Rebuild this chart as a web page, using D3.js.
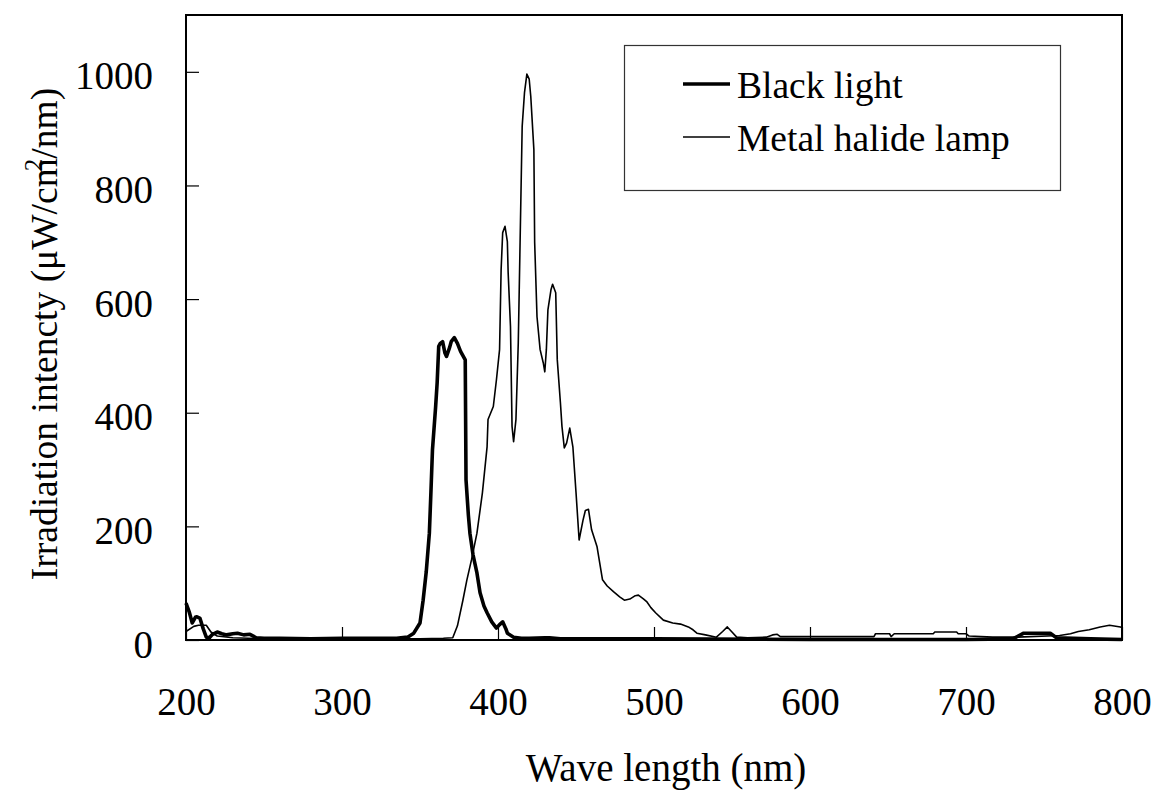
<!DOCTYPE html>
<html>
<head>
<meta charset="utf-8">
<script src="https://cdn.jsdelivr.net/npm/d3@7"></script>
<style>
  html, body { margin: 0; padding: 0; background: #fff; }
  svg { display: block; }
  text { font-family: "Liberation Serif", "Times New Roman", serif; fill: #000; }
</style>
</head>
<body>
<svg id="chart" width="1157" height="791"></svg>
<script>
// Spectral irradiance of two light sources (μW/cm²/nm) against wavelength (nm)
const seriesNames = ["Black light", "Metal halide lamp"];

const blackLightWave = [200, 202, 204, 206, 207, 209, 211, 213, 215, 217, 220, 223, 226, 230, 233, 237, 241, 245, 250, 260, 280, 300, 320, 335, 342, 346, 350, 352, 354, 356, 357, 358, 360, 361, 362, 363, 364.5, 366, 367, 369, 370, 372, 374, 376, 379, 379.5, 381, 382, 384, 386.5, 388.5, 391, 393, 396, 399, 401, 403, 405, 406, 410, 415, 420, 430, 433, 440, 500, 600, 700, 730, 737, 754, 758, 780, 800];
const blackLightValue = [65, 50, 30, 40, 41, 38, 20, 5, 4, 10, 14, 11, 9, 11, 12, 9, 10, 4, 3, 3, 2, 3, 3, 3, 5, 12, 30, 70, 120, 188, 260, 335, 410, 453, 517, 522, 525, 505, 499, 515, 525, 532, 522, 508, 493, 282, 220, 188, 150, 118, 83, 60, 48, 32, 21, 27, 32, 20, 12, 5, 3, 3, 4, 4, 2, 2, 1, 1, 2, 12, 12, 4, 2, 1];

const halideWave = [200, 205, 208, 213, 216, 220, 230, 250, 300, 350, 365, 371, 374, 377.5, 380, 383, 386.5, 390, 393, 393.6, 397, 399, 401, 402, 403, 404.5, 406, 406.5, 408, 409, 410, 411.5, 413, 415.5, 417, 418.5, 420, 421, 423, 423.5, 425, 427, 429, 430, 431, 432, 434, 435, 437, 438, 440, 441, 442.5, 444, 446, 448, 450, 452, 454.5, 456, 458, 460, 463.5, 467, 470, 474, 478, 481, 484.5, 488, 490, 493, 495.5, 498, 501, 506, 512, 517, 522, 525, 527.5, 533, 540, 544, 547, 550, 553, 560, 572, 576, 579, 581, 600, 641, 642, 651, 652, 654, 679, 680, 694, 695, 700, 702, 717, 733, 760, 767, 772, 779, 786, 792, 799, 800];
const halideValue = [15, 24, 26, 26, 14, 7, 4, 2, 2, 2, 3, 4, 25, 70, 105, 141, 188, 259, 340, 388, 411, 458, 511, 652, 717, 728, 701, 647, 552, 376, 349, 388, 523, 904, 964, 996, 987, 957, 863, 700, 569, 511, 488, 472, 511, 581, 617, 626, 611, 493, 418, 376, 338, 347, 373, 340, 260, 176, 211, 228, 230, 194, 164, 106, 95, 85, 76, 70, 72, 78, 79, 73, 67, 57, 48, 35, 30, 28, 23, 18, 12, 9, 5, 15, 23, 14, 5, 4, 5, 9, 10, 6, 6, 6, 11, 11, 6, 11, 11, 14, 14, 11, 11, 7, 5, 5, 8, 11, 15, 18, 23, 26, 23, 22];

const xTicks = [200, 300, 400, 500, 600, 700, 800];
const yTicks = [0, 200, 400, 600, 800, 1000];

const svg = d3.select("#chart");
const plot = { left: 186, right: 1122, top: 15, bottom: 640 };

const x = d3.scaleLinear().domain([200, 800]).range([plot.left, plot.right]);
const y = d3.scaleLinear().domain([0, 1100]).range([plot.bottom, plot.top]);

// Axes with inward ticks
const xAxis = svg.append("g")
  .attr("transform", `translate(0,${plot.bottom})`)
  .call(d3.axisBottom(x).tickValues(xTicks).tickFormat(d3.format("d")).tickSize(-13).tickPadding(47));
const yAxis = svg.append("g")
  .attr("transform", `translate(${plot.left},0)`)
  .call(d3.axisLeft(y).tickValues(yTicks).tickFormat(d3.format("d")).tickSize(-13).tickPadding(33));

[xAxis, yAxis].forEach(g => {
  g.select(".domain").remove();
  g.selectAll(".tick line").attr("stroke", "#000").attr("stroke-width", 1.2);
  g.selectAll(".tick text")
    .style("font-family", "'Liberation Serif', 'Times New Roman', serif")
    .style("font-size", "39px")
    .attr("fill", "#000");
});
yAxis.selectAll(".tick text").attr("dy", "0.44em");

// Spectral curves
const line = d3.line().x(d => x(d[0])).y(d => y(d[1]));
const blackLight = blackLightWave.map((w, i) => [w, blackLightValue[i]]);
const halide = halideWave.map((w, i) => [w, halideValue[i]]);

svg.append("path").datum(halide)
  .attr("d", line).attr("fill", "none")
  .attr("stroke", "#000").attr("stroke-width", 1.6).attr("stroke-linejoin", "round");
svg.append("path").datum(blackLight)
  .attr("d", line).attr("fill", "none")
  .attr("stroke", "#000").attr("stroke-width", 3.6).attr("stroke-linejoin", "round");

// Plot frame
svg.append("rect")
  .attr("x", plot.left).attr("y", plot.top)
  .attr("width", plot.right - plot.left).attr("height", plot.bottom - plot.top)
  .attr("fill", "none").attr("stroke", "#000").attr("stroke-width", 2);

// Legend
const legend = svg.append("g");
legend.append("rect")
  .attr("x", 624.5).attr("y", 45.5).attr("width", 436).attr("height", 145)
  .attr("fill", "#fff").attr("stroke", "#333").attr("stroke-width", 1.2);
const legendRows = [
  { name: seriesNames[0], width: 3.6, y: 84 },
  { name: seriesNames[1], width: 1.6, y: 137 }
];
legendRows.forEach(r => {
  legend.append("line")
    .attr("x1", 683).attr("x2", 730).attr("y1", r.y).attr("y2", r.y)
    .attr("stroke", "#000").attr("stroke-width", r.width);
  legend.append("text")
    .attr("x", 737).attr("y", r.y + 14)
    .style("font-size", "37.5px")
    .text(r.name);
});

// Axis titles
svg.append("text")
  .attr("x", 666).attr("y", 781)
  .attr("text-anchor", "middle")
  .style("font-size", "39px")
  .text("Wave length (nm)");

const yTitle = svg.append("text")
  .attr("transform", "translate(57,334) rotate(-90)")
  .attr("text-anchor", "middle")
  .style("font-size", "37.5px");
yTitle.append("tspan").text("Irradiation intencty (μW/cm");
yTitle.append("tspan").attr("dx", -13).attr("dy", -15).style("font-size", "25px").text("2");
yTitle.append("tspan").attr("dy", 15).text("/nm)");
</script>
</body>
</html>
